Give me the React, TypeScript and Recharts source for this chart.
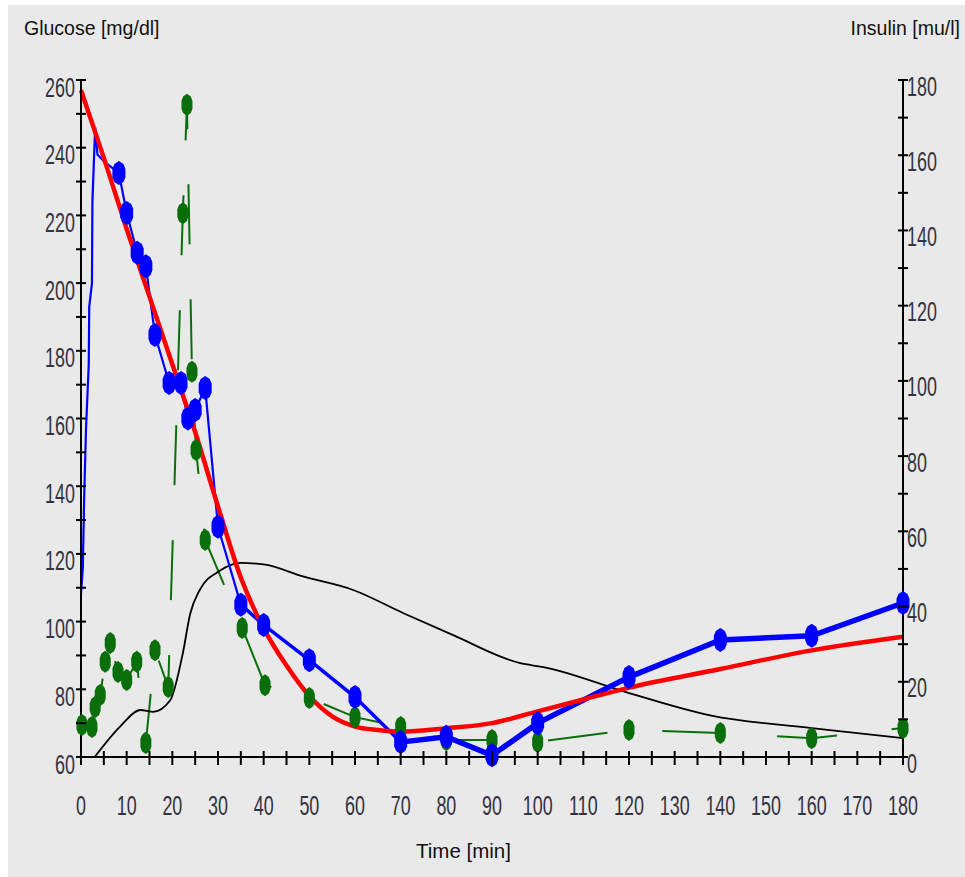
import React from "react";
import { LineChart, Line, XAxis, YAxis } from "recharts";

// time ticks (min), glucose ticks (mg/dl), insulin ticks (mu/l)
const timeTicks = [0, 5, 10, 15, 20, 25, 30, 35, 40, 45, 50, 55, 60, 65, 70, 75, 80, 85, 90, 95, 100, 105, 110, 115, 120, 125, 130, 135, 140, 145, 150, 155, 160, 165, 170, 175, 180];
const glucoseTicks = [60, 70, 80, 90, 100, 110, 120, 130, 140, 150, 160, 170, 180, 190, 200, 210, 220, 230, 240, 250, 260];
const insulinTicks = [0, 10, 20, 30, 40, 50, 60, 70, 80, 90, 100, 110, 120, 130, 140, 150, 160, 170, 180];

// glucose ramp right after the bolus (dense samples, no markers)
const rampT = [0, 0.4, 0.7, 1.1, 1.7, 1.8, 2.4, 2.5, 3.1, 3.6, 5];
const rampG = [108, 116, 137, 157, 176, 193, 200, 224, 246, 238, 236];

// measured glucose
const glucT = [8.3, 10, 12.3, 14.2, 16.2, 19.3, 21.9, 23.4, 25, 27.2, 30, 35, 40, 50, 60, 70, 80, 90, 100, 120, 140, 160, 180];
const glucG = [232.5, 220.7, 209, 205, 184.7, 170.5, 170.5, 160, 162.5, 169, 128, 105, 99, 88.6, 77.7, 64.4, 66, 60.5, 70, 83.6, 94.6, 95.8, 105.5];

// model glucose
const modelT = [0, 5, 10, 15, 20, 25, 30, 35, 40, 45, 50, 55, 60, 65, 70, 80, 90, 100, 110, 120, 140, 160, 180];
const modelG = [257, 237, 216, 196, 176, 156, 134, 113, 98, 87, 78, 72, 69, 68, 67.5, 68.5, 70, 73.5, 77, 80.5, 86, 91.5, 95.5];

// model insulin
const insModelT = [3, 8.5, 13, 15.8, 19.5, 22.3, 23.9, 26, 30.4, 35, 40, 48.6, 59.6, 70.5, 81.5, 96, 102, 120, 138, 160, 180];
const insModelV = [0, 8, 12.5, 12, 15, 27.6, 38, 44.4, 49.5, 51.6, 51.2, 48, 44.4, 38.3, 32.4, 25, 23.7, 17, 11, 7.7, 5];

// measured insulin
const insT = [0.2, 2.4, 3.1, 4.2, 5.3, 6.4, 8.1, 10, 12.2, 14.2, 16.2, 19.1, 22.3, 23.2, 24.3, 25.2, 27.2, 35.3, 40.3, 50, 60, 70, 80, 90, 100, 120, 140, 160, 180];
const insV = [8.5, 8, 13.3, 16.5, 25.3, 30.3, 22.6, 20.5, 25.3, 3.7, 28.4, 18.6, 144.6, 173.4, 102.4, 81.6, 57.7, 34.3, 19.1, 15.7, 10.6, 8, 4.5, 4.5, 4, 7.2, 6.4, 5, 7.7];

const zip = (ts: number[], vs: number[]) => ts.map((t, i) => ({ t, v: vs[i] }));

const blueThin = zip([...rampT, ...glucT.slice(0, 12)], [...rampG, ...glucG.slice(0, 12)]);
const blueMid = zip(glucT.slice(11, 16), glucG.slice(11, 16));
const blueThick = zip(glucT.slice(15), glucG.slice(15));
const blueDots = zip(glucT, glucG);
const redModel = zip(modelT, modelG);
const blackModel = zip(insModelT, insModelV);
const greenIns = zip(insT, insV);

const BLUE = "#0000ff";
const RED = "#ff0000";
const GREEN = "#0a6e0a";
const LABEL = "#333340";
const TICK_FONT = { fontFamily: "Liberation Sans, Arial, sans-serif", fontSize: 28, fill: LABEL };

const hex = (cx: number, cy: number, w: number, h: number) =>
  [
    [0, -h], [w * 0.7, -h * 0.75], [w, -h * 0.35], [w, h * 0.35], [w * 0.7, h * 0.75],
    [0, h], [-w * 0.7, h * 0.75], [-w, h * 0.35], [-w, -h * 0.35], [-w * 0.7, -h * 0.75],
  ]
    .map(([dx, dy]) => `${cx + dx},${cy + dy}`)
    .join(" ");

const blueDot = (p: any) => (
  <polygon key={`b${p.index}`} points={hex(p.cx, p.cy, 6.5, 12)} fill={BLUE} />
);
const greenDot = (p: any) => (
  <polygon key={`g${p.index}`} points={hex(p.cx, p.cy, 5.5, 11)} fill={GREEN} />
);

const LeftTick = (p: any) => {
  const { x, y, payload } = p;
  return (
    <g>
      <line x1={x - 5} x2={x + 5} y1={y} y2={y} stroke="#000" strokeWidth={2} />
      {payload.value % 20 === 0 && (
        <text transform={`translate(${x - 6},${y + 16.5}) scale(0.64,1)`} textAnchor="end" {...TICK_FONT}>
          {payload.value}
        </text>
      )}
    </g>
  );
};

const RightTick = (p: any) => {
  const { x, y, payload } = p;
  return (
    <g>
      <line x1={x - 5} x2={x + 5} y1={y} y2={y} stroke="#000" strokeWidth={2} />
      {payload.value % 20 === 0 && (
        <text transform={`translate(${x + 4},${y + 15.5}) scale(0.64,1)`} textAnchor="start" {...TICK_FONT}>
          {payload.value}
        </text>
      )}
    </g>
  );
};

const BottomTick = (p: any) => {
  const { x, y, payload } = p;
  return (
    <g>
      <line x1={x} x2={x} y1={y - 6} y2={y + 8} stroke="#000" strokeWidth={2} />
      {payload.value % 10 === 0 && (
        <text transform={`translate(${x},${y + 58}) scale(0.64,1)`} textAnchor="middle" {...TICK_FONT}>
          {payload.value}
        </text>
      )}
    </g>
  );
};

const titleStyle: React.CSSProperties = {
  position: "absolute",
  fontFamily: "Liberation Sans, Arial, sans-serif",
  fontSize: 19.5,
  color: "#111",
  lineHeight: "20px",
  whiteSpace: "nowrap",
};

export default function App() {
  return (
    <div style={{ position: "absolute", left: 0, top: 0, width: 965, height: 877, background: "#fff" }}>
      <div style={{ position: "absolute", left: 8, top: 5, width: 957, height: 872, background: "#e9e9e9" }} />
      <div style={{ ...titleStyle, left: 24, top: 18 }}>Glucose [mg/dl]</div>
      <div style={{ ...titleStyle, right: 5, top: 18 }}>Insulin [mu/l]</div>
      <div style={{ ...titleStyle, left: 416, top: 841, fontSize: 20.5 }}>Time [min]</div>
      <div style={{ position: "absolute", left: 0, top: 0 }}>
        <LineChart width={965} height={877} margin={{ top: 80, right: 2, bottom: 60, left: 21 }}>
          <XAxis
            dataKey="t"
            type="number"
            domain={[0, 180]}
            ticks={timeTicks}
            interval={0}
            tickSize={0}
            tickMargin={0}
            tickLine={false}
            axisLine={{ stroke: "#000", strokeWidth: 2 }}
            tick={<BottomTick />}
            height={60}
          />
          <YAxis
            yAxisId="g"
            orientation="left"
            domain={[60, 260]}
            ticks={glucoseTicks}
            interval={0}
            tickSize={0}
            tickMargin={0}
            tickLine={false}
            axisLine={{ stroke: "#000", strokeWidth: 2 }}
            tick={<LeftTick />}
            width={60}
          />
          <YAxis
            yAxisId="i"
            orientation="right"
            domain={[0, 180]}
            ticks={insulinTicks}
            interval={0}
            tickSize={0}
            tickMargin={0}
            tickLine={false}
            axisLine={{ stroke: "#000", strokeWidth: 2 }}
            tick={<RightTick />}
            width={60}
          />
          <Line yAxisId="i" data={greenIns} dataKey="v" type="linear" stroke={GREEN} strokeWidth={2} strokeDasharray="60 55" dot={greenDot} isAnimationActive={false} />
          <Line yAxisId="i" data={blackModel} dataKey="v" type="monotone" stroke="#000" strokeWidth={1.8} dot={false} isAnimationActive={false} />
          <Line yAxisId="g" data={blueThin} dataKey="v" type="linear" stroke={BLUE} strokeWidth={2.2} dot={false} isAnimationActive={false} />
          <Line yAxisId="g" data={blueMid} dataKey="v" type="linear" stroke={BLUE} strokeWidth={3.5} dot={false} isAnimationActive={false} />
          <Line yAxisId="g" data={blueThick} dataKey="v" type="linear" stroke={BLUE} strokeWidth={5.5} dot={false} isAnimationActive={false} />
          <Line yAxisId="g" data={blueDots} dataKey="v" type="linear" stroke="none" dot={blueDot} isAnimationActive={false} />
          <Line yAxisId="g" data={redModel} dataKey="v" type="monotone" stroke={RED} strokeWidth={4.5} dot={false} isAnimationActive={false} />
        </LineChart>
      </div>
    </div>
  );
}
